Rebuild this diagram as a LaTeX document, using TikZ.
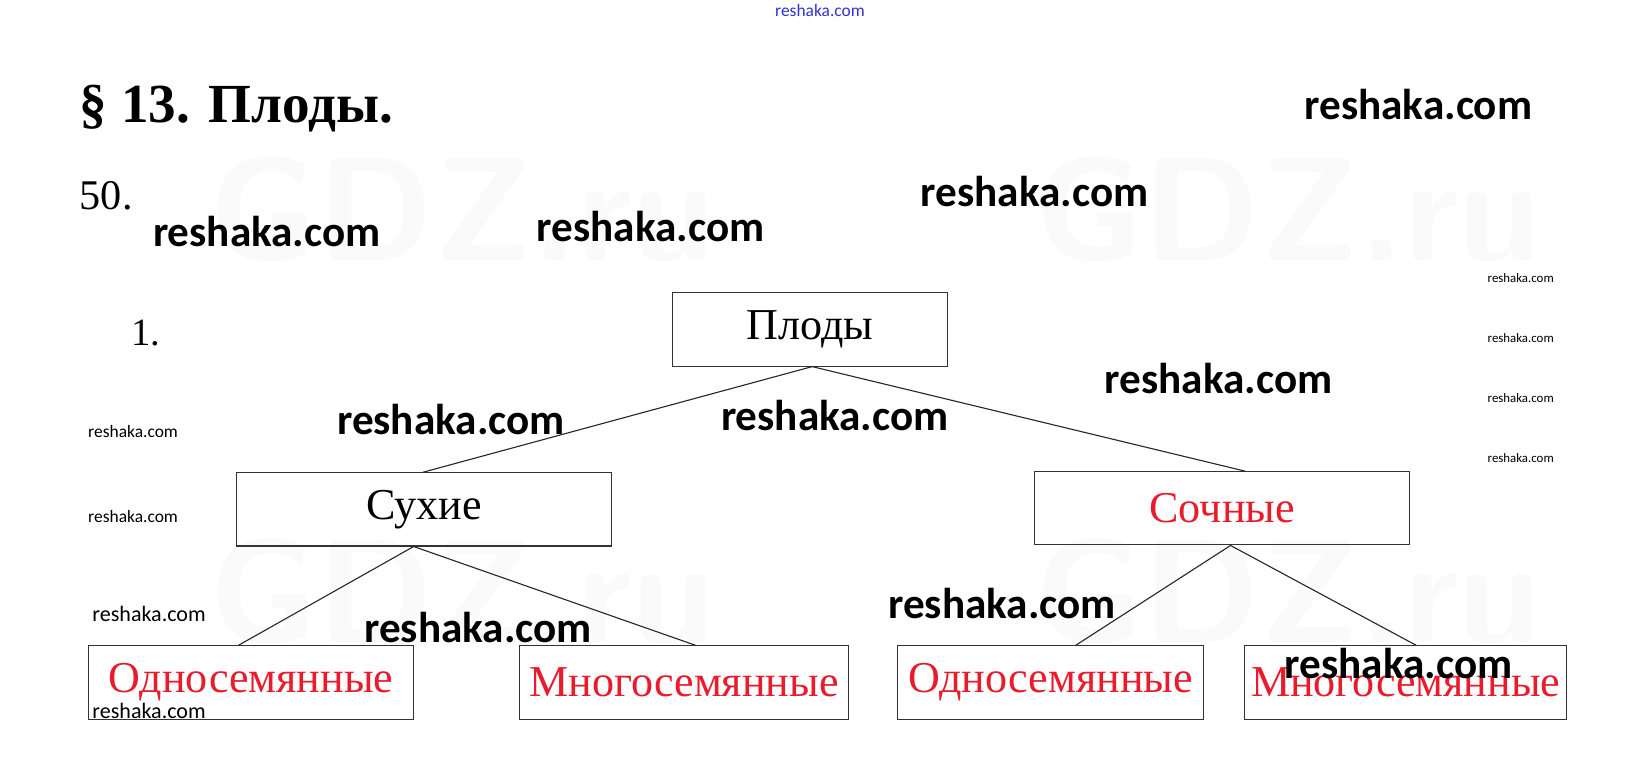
\documentclass[tikz,border=0pt]{standalone}
\usepackage{fontspec}
\setmainfont{Liberation Serif}
\newfontfamily\wmfont{Carlito}
\usepackage{tikz}
\usetikzlibrary{
    positioning,
    calc
}
\definecolor{fruitred}{RGB}{232,28,45}
\definecolor{wmblue}{RGB}{50,50,210}
\tikzstyle{fruitbox} = [
    draw=black!80,
    line width=0.6pt,
    minimum height=1.4cm,
    inner sep=0pt,
    font=\fontsize{24}{28}\selectfont
]
\tikzstyle{branch} = [
    draw=black!85,
    line width=0.6pt
]
\tikzstyle{wmbig} = [
    anchor=west,
    inner sep=0pt,
    font=\wmfont\bfseries\fontsize{23.5}{28}\selectfont
]
\tikzstyle{wmsmall} = [
    anchor=west,
    inner sep=0pt,
    font=\wmfont\fontsize{9.5}{11}\selectfont
]
\tikzstyle{wmfaint} = [
    anchor=west,
    inner sep=0pt,
    text=black!2,
    font=\sffamily\bfseries\fontsize{80}{90}\selectfont
]

\begin{document}
\begin{tikzpicture}[x=0.02cm, y=-0.02cm]
    \useasboundingbox[fill=white] (0,0) rectangle (1568,743);

    % Faint background marks
    \node[wmfaint] (gdz1) at (200,200) {GDZ.ru};
    \node[wmfaint] (gdz2) at (990,200) {GDZ.ru};
    \node[wmfaint] (gdz3) at (200,565) {GDZ.ru};
    \node[wmfaint] (gdz4) at (990,565) {GDZ.ru};

    % Heading
    \node[anchor=west, inner sep=0pt, font=\bfseries\fontsize{30}{36}\selectfont] (title) at (76,104) {§ 13. Плоды.};
    \node[anchor=west, inner sep=0pt, font=\fontsize{23}{27}\selectfont] (task) at (76,187) {50.};
    \node[anchor=west, inner sep=0pt, font=\fontsize{21}{25}\selectfont] (item) at (125,318) {1.};

    % Tree of fruits
    \node[fruitbox, minimum width=5.26cm] (plody) at (774.5,315) {Плоды};
    \node[fruitbox, minimum width=7.18cm] (suhie) at (405.5,487) {Сухие};
    \node[fruitbox, minimum width=7.18cm, text=fruitred] (sochnye) at (1168.5,486) {Сочные};
    \node[fruitbox, minimum width=6.2cm, text=fruitred] (odnoL) at (240,652.5) {Односемянные};
    \node[fruitbox, minimum width=6.28cm, text=fruitred] (mnogoL) at (654,652.5) {Многосемянные};
    \node[fruitbox, minimum width=5.86cm, text=fruitred] (odnoR) at (1004.5,652.5) {Односемянные};
    \node[fruitbox, minimum width=6.16cm, text=fruitred] (mnogoR) at (1344,652.5) {Многосемянные};

    % Branches
    \draw[branch] ($(plody.south)+(2,0)$) -- ($(suhie.north)+(-1,0)$);
    \draw[branch] ($(plody.south)+(2,0)$) -- ($(sochnye.north)+(22,0)$);
    \draw[branch] ($(suhie.south)+(-10,0)$) -- ($(odnoL.north)+(-12,0)$);
    \draw[branch] ($(suhie.south)+(-10,0)$) -- ($(mnogoL.north)+(11,0)$);
    \draw[branch] ($(sochnye.south)+(8,0)$) -- ($(odnoR.north)+(24,0)$);
    \draw[branch] ($(sochnye.south)+(8,0)$) -- ($(mnogoR.north)+(10,0)$);

    % Watermarks
    \node[anchor=center, inner sep=0pt, text=wmblue, font=\wmfont\fontsize{9.5}{11}\selectfont] (wm0) at (784,10) {reshaka.com};
    \node[wmbig] (wm1) at (1247,100) {reshaka.com};
    \node[wmbig] (wm2) at (880,183) {reshaka.com};
    \node[wmbig] (wm3) at (146,221) {reshaka.com};
    \node[wmbig] (wm4) at (513,217) {reshaka.com};
    \node[wmbig] (wm5) at (322,401) {reshaka.com};
    \node[wmbig] (wm6) at (689,397) {reshaka.com};
    \node[wmbig] (wm7) at (1056,362) {reshaka.com};
    \node[wmbig] (wm8) at (849,577) {reshaka.com};
    \node[wmbig] (wm9) at (348,600) {reshaka.com};
    \node[wmbig] (wm10) at (1228,634) {reshaka.com};
    \node[wmsmall] (wm11) at (84,413) {reshaka.com};
    \node[wmsmall] (wm12) at (84,494) {reshaka.com};
    \node[wmsmall, font=\wmfont\fontsize{12}{14}\selectfont] (wm13) at (88,587) {reshaka.com};
    \node[wmsmall, font=\wmfont\fontsize{12}{14}\selectfont] (wm14) at (88,680) {reshaka.com};
    \node[wmsmall, font=\wmfont\fontsize{7}{8}\selectfont] (wm15) at (1422,266) {reshaka.com};
    \node[wmsmall, font=\wmfont\fontsize{7}{8}\selectfont] (wm16) at (1422,323) {reshaka.com};
    \node[wmsmall, font=\wmfont\fontsize{7}{8}\selectfont] (wm17) at (1422,381) {reshaka.com};
    \node[wmsmall, font=\wmfont\fontsize{7}{8}\selectfont] (wm18) at (1422,438) {reshaka.com};
\end{tikzpicture}
\end{document}
